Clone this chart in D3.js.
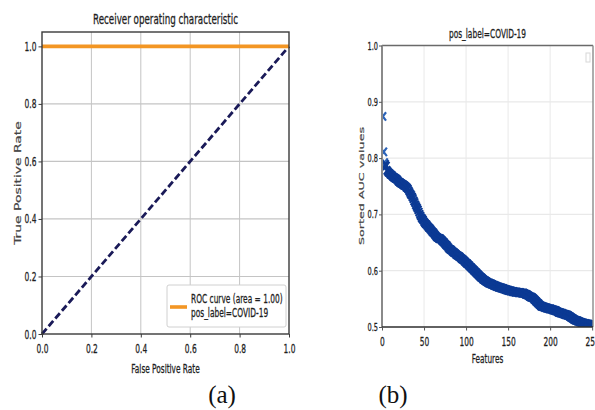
<!DOCTYPE html>
<html>
<head>
<meta charset="utf-8">
<script src="https://cdn.jsdelivr.net/npm/d3@7"></script>
<style>
  body { margin: 0; background: #fff; }
  svg { display: block; }
  text { font-family: "DejaVu Sans", sans-serif; fill: #1e1e1e; stroke: #1e1e1e; stroke-width: 0.3px; }
  text.cap { stroke: none; }
</style>
</head>
<body>
<svg id="fig" width="595" height="410"></svg>
<script>
// ---- panel (a): ROC curve ----
const rocFpr = [0, 1];
const rocTpr = [1, 1];
const chanceFpr = [0, 1];
const chanceTpr = [0, 1];
const rocTicks = [0, 0.2, 0.4, 0.6, 0.8, 1.0];
const rocLegend = ["ROC curve (area = 1.00)", "pos_label=COVID-19"];

// ---- panel (b): per-feature AUC, sorted descending (features numbered from 1) ----
const aucValues = [
  0.874, 0.811, 0.792, 0.789, 0.786, 0.778, 0.776, 0.774, 0.773, 0.771,
  0.770, 0.769, 0.767, 0.766, 0.765, 0.764, 0.763, 0.762, 0.760, 0.758,
  0.757, 0.756, 0.755, 0.754, 0.753, 0.752, 0.751, 0.750, 0.748, 0.747,
  0.745, 0.742, 0.739, 0.736, 0.734, 0.731, 0.728, 0.724, 0.721, 0.717,
  0.714, 0.711, 0.708, 0.704, 0.700, 0.697, 0.694, 0.692, 0.690, 0.687,
  0.685, 0.683, 0.682, 0.680, 0.678, 0.676, 0.675, 0.673, 0.671, 0.669,
  0.668, 0.666, 0.664, 0.662, 0.660, 0.659, 0.658, 0.657, 0.657, 0.656,
  0.654, 0.653, 0.651, 0.650, 0.648, 0.646, 0.645, 0.643, 0.641, 0.639,
  0.638, 0.637, 0.636, 0.634, 0.633, 0.632, 0.631, 0.629, 0.628, 0.627,
  0.626, 0.625, 0.624, 0.622, 0.621, 0.620, 0.619, 0.617, 0.616, 0.614,
  0.613, 0.612, 0.610, 0.609, 0.607, 0.606, 0.604, 0.603, 0.601, 0.600,
  0.598, 0.597, 0.595, 0.594, 0.592, 0.591, 0.589, 0.588, 0.587, 0.585,
  0.584, 0.583, 0.582, 0.581, 0.580, 0.579, 0.578, 0.578, 0.577, 0.576,
  0.576, 0.575, 0.574, 0.574, 0.573, 0.572, 0.572, 0.571, 0.571, 0.570,
  0.570, 0.569, 0.569, 0.568, 0.568, 0.567, 0.567, 0.566, 0.566, 0.565,
  0.565, 0.564, 0.564, 0.564, 0.563, 0.563, 0.563, 0.562, 0.562, 0.562,
  0.562, 0.561, 0.561, 0.561, 0.561, 0.560, 0.560, 0.560, 0.560, 0.559,
  0.558, 0.558, 0.557, 0.556, 0.555, 0.554, 0.553, 0.553, 0.552, 0.551,
  0.549, 0.548, 0.546, 0.545, 0.543, 0.542, 0.540, 0.539, 0.537, 0.537,
  0.536, 0.536, 0.535, 0.535, 0.534, 0.534, 0.533, 0.533, 0.532, 0.532,
  0.532, 0.531, 0.531, 0.530, 0.530, 0.529, 0.529, 0.528, 0.527, 0.526,
  0.526, 0.525, 0.525, 0.524, 0.524, 0.523, 0.523, 0.522, 0.522, 0.521,
  0.521, 0.520, 0.519, 0.518, 0.517, 0.516, 0.515, 0.514, 0.513, 0.512,
  0.512, 0.511, 0.511, 0.510, 0.509, 0.509, 0.508, 0.508, 0.507, 0.507,
  0.506, 0.506, 0.506, 0.505, 0.505, 0.505, 0.504, 0.504, 0.503, 0.503
];
const featureTicks = [0, 50, 100, 150, 200, 250];
const aucTicks = [0.5, 0.6, 0.7, 0.8, 0.9, 1.0];

const K = 0.6; // horizontal compression of the figure text
const svg = d3.select("#fig");

// text helpers: horizontally condensed labels
function label(g, x, y, str, size, anchor) {
  return g.append("text")
    .attr("transform", `translate(${x},${y}) scale(${K},1)`)
    .attr("text-anchor", anchor)
    .attr("font-size", size)
    .text(str);
}
function vlabel(g, x, y, str, size) {
  return g.append("text")
    .attr("transform", `translate(${x},${y}) rotate(-90) scale(1,${K})`)
    .attr("text-anchor", "middle")
    .attr("dy", "0.36em")
    .attr("font-size", size)
    .style("fill", "#444").style("stroke", "#444")
    .text(str);
}
function condenseAxis(g, size) {
  g.select(".domain").remove();
  g.selectAll("text").each(function () {
    const t = d3.select(this);
    const x = +t.attr("x") || 0;
    t.attr("x", x / K).attr("transform", `scale(${K},1)`)
     .attr("font-size", size).attr("font-family", null);
  });
}

// ================= panel (a) =================
const ax = d3.scaleLinear().domain([0, 1]).range([42, 289]);
const ay = d3.scaleLinear().domain([0, 1.05]).range([334, 32]);
const ga = svg.append("g");

// grid
ga.append("g").selectAll("line").data(rocTicks.slice(1, -1)).join("line")
  .attr("x1", d => ax(d)).attr("x2", d => ax(d))
  .attr("y1", ay(1.05)).attr("y2", ay(0))
  .attr("stroke", "#c4c4c4").attr("stroke-width", 1);
ga.append("g").selectAll("line").data(rocTicks.slice(1)).join("line")
  .attr("x1", ax(0)).attr("x2", ax(1))
  .attr("y1", d => ay(d)).attr("y2", d => ay(d))
  .attr("stroke", "#c4c4c4").attr("stroke-width", 1.2);

// chance diagonal
const lineA = d3.line().x(d => ax(d[0])).y(d => ay(d[1]));
ga.append("path")
  .attr("d", lineA(d3.zip(chanceFpr, chanceTpr)))
  .attr("fill", "none").attr("stroke", "#1a1a58")
  .attr("stroke-width", 2.8).attr("stroke-dasharray", "7,3.2");

// ROC curve
ga.append("path")
  .attr("d", lineA(d3.zip(rocFpr, rocTpr)))
  .attr("fill", "none").attr("stroke", "#f39624")
  .attr("stroke-width", 3.6);

// spines
ga.append("rect")
  .attr("x", ax(0)).attr("y", ay(1.05))
  .attr("width", ax(1) - ax(0)).attr("height", ay(0) - ay(1.05))
  .attr("fill", "none").attr("stroke", "#3a3a3a").attr("stroke-width", 1.4);

// axes
const fmt1 = d3.format(".1f");
const axL = ga.append("g").attr("transform", `translate(${ax(0)},0)`)
  .call(d3.axisLeft(ay).tickValues(rocTicks).tickFormat(fmt1).tickSize(3.5).tickPadding(2));
axL.selectAll(".tick line").attr("stroke", "#3a3a3a");
condenseAxis(axL, 12.5);
const axB = ga.append("g").attr("transform", `translate(0,${ay(0)})`)
  .call(d3.axisBottom(ax).tickValues(rocTicks).tickFormat(fmt1).tickSize(3.5).tickPadding(6.5));
axB.selectAll(".tick line").attr("stroke", "#3a3a3a");
condenseAxis(axB, 12.5);

// titles
label(ga, (ax(0) + ax(1)) / 2, 24, "Receiver operating characteristic", 14.6, "middle");
label(ga, (ax(0) + ax(1)) / 2, 373, "False Positive Rate", 12.3, "middle");
vlabel(ga, 18, (ay(0) + ay(1.05)) / 2, "True Positive Rate", 13.9);

// legend
const lg = ga.append("g");
lg.append("rect").attr("x", 167).attr("y", 285).attr("width", 119).attr("height", 42)
  .attr("rx", 2).attr("fill", "#fff").attr("stroke", "#d0d0d0").attr("stroke-width", 1);
lg.append("line").attr("x1", 170).attr("x2", 187).attr("y1", 307).attr("y2", 307)
  .attr("stroke", "#f39624").attr("stroke-width", 3.6);
rocLegend.forEach((t, i) => label(lg, 191, 303 + i * 14, t, 12.4, "start"));

// ================= panel (b) =================
const bx = d3.scaleLinear().domain([0, 251]).range([382, 593]);
const by = d3.scaleLinear().domain([0.5, 1.0]).range([327, 45.5]);
const gb = svg.append("g");

gb.append("defs").append("clipPath").attr("id", "clipB")
  .append("rect").attr("x", bx(0)).attr("y", by(1.0))
  .attr("width", bx(251) - bx(0)).attr("height", by(0.5) - by(1.0));

// grid
gb.append("g").selectAll("line").data(featureTicks.slice(1, -1)).join("line")
  .attr("x1", d => bx(d)).attr("x2", d => bx(d))
  .attr("y1", by(1.0)).attr("y2", by(0.5))
  .attr("stroke", "#e9e9e9").attr("stroke-width", 1);
gb.append("g").selectAll("line").data(aucTicks.slice(1, -1)).join("line")
  .attr("x1", bx(0)).attr("x2", bx(251))
  .attr("y1", d => by(d)).attr("y2", d => by(d))
  .attr("stroke", "#e9e9e9").attr("stroke-width", 1.2);

// x markers, one per feature (feature number = index + 1)
const xMark = "M-3.2,-4.2L3.2,4.2M-3.2,4.2L3.2,-4.2";
gb.append("g").attr("clip-path", "url(#clipB)")
  .selectAll("path").data(aucValues).join("path")
  .attr("transform", (d, i) => `translate(${bx(i + 1)},${by(d)})`)
  .attr("d", xMark)
  .attr("fill", "none")
  .attr("stroke", (d, i) => i < 3 ? "#2a62b8" : "#0c3a94")
  .attr("stroke-width", 2.2);

// spines
gb.append("line").attr("x1", bx(0)).attr("x2", bx(251)).attr("y1", by(1.0)).attr("y2", by(1.0))
  .attr("stroke", "#6a6a6a").attr("stroke-width", 1.6);
gb.append("line").attr("x1", bx(251)).attr("x2", bx(251)).attr("y1", by(1.0)).attr("y2", by(0.5))
  .attr("stroke", "#8a8a8a").attr("stroke-width", 1.4);
gb.append("line").attr("x1", bx(0)).attr("x2", bx(0)).attr("y1", by(1.0)).attr("y2", by(0.5))
  .attr("stroke", "#8a8a8a").attr("stroke-width", 2);
gb.append("line").attr("x1", bx(0)).attr("x2", bx(251)).attr("y1", by(0.5)).attr("y2", by(0.5))
  .attr("stroke", "#2e2e2e").attr("stroke-width", 1.6);

// empty legend frame
gb.append("rect").attr("x", 586).attr("y", 53).attr("width", 4).attr("height", 9)
  .attr("fill", "#fff").attr("stroke", "#d8d8d8").attr("stroke-width", 1);

// axes
const bL = gb.append("g").attr("transform", `translate(${bx(0)},0)`)
  .call(d3.axisLeft(by).tickValues(aucTicks).tickFormat(fmt1).tickSize(3).tickPadding(1));
bL.selectAll(".tick line").attr("stroke", "#555");
condenseAxis(bL, 11);
const bB = gb.append("g").attr("transform", `translate(0,${by(0.5)})`)
  .call(d3.axisBottom(bx).tickValues(featureTicks).tickFormat(d3.format("d")).tickSize(3.5).tickPadding(7));
bB.selectAll(".tick line").attr("stroke", "#555");
condenseAxis(bB, 12.5);

// titles
label(gb, (bx(0) + bx(251)) / 2, 38, "pos_label=COVID-19", 12.4, "middle");
label(gb, (bx(0) + bx(251)) / 2, 363, "Features", 12.2, "middle");
vlabel(gb, 361, 186, "Sorted AUC values", 12.7);

// ================= captions =================
svg.append("text").attr("class", "cap").attr("x", 222).attr("y", 403).attr("text-anchor", "middle")
  .style("font-family", "Liberation Serif, serif")
  .attr("font-size", 25).style("fill", "#111").text("(a)");
svg.append("text").attr("class", "cap").attr("x", 393).attr("y", 403).attr("text-anchor", "middle")
  .style("font-family", "Liberation Serif, serif")
  .attr("font-size", 25).style("fill", "#111").text("(b)");
</script>
</body>
</html>
